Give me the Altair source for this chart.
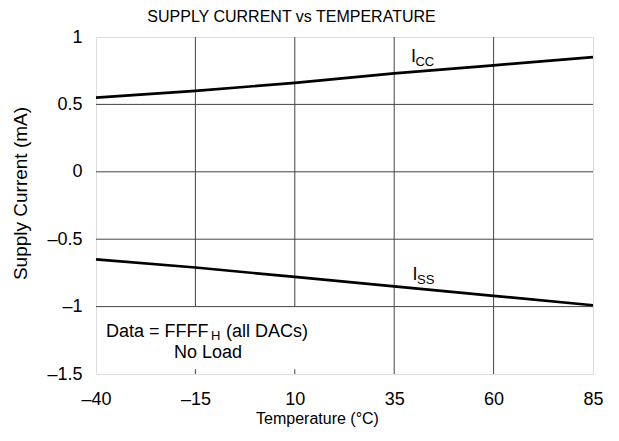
import altair as alt
import pandas as pd

# Data
temps = [-40, -15, 10, 35, 60, 85]
icc = [0.55, 0.60, 0.66, 0.73, 0.79, 0.85]
iss = [-0.65, -0.71, -0.78, -0.85, -0.92, -0.99]

x_ticks = [-40, -15, 10, 35, 60, 85]
y_ticks = [-1.5, -1, -0.5, 0, 0.5, 1]

FONT = "Liberation Sans"

lines_df = pd.DataFrame({
    "t": temps * 2,
    "v": icc + iss,
    "s": ["ICC"] * len(temps) + ["ISS"] * len(temps),
})

xs = alt.Scale(domain=[-40, 85], nice=False, zero=False)
ys = alt.Scale(domain=[-1.5, 1], nice=False, zero=False)

# grid: vertical lines at -15 and 10 stop at the annotation box (y=-1)
vgrid = pd.DataFrame({"t": [-15, 10, 35, 60], "lo": [-1, -1, -1.5, -1.5], "hi": [1, 1, 1, 1]})
hgrid = pd.DataFrame({"v": [0.5, 0, -0.5, -1], "a": [-40] * 4, "b": [85] * 4})
bticks = pd.DataFrame({"t": [-15, 10], "lo": [-1.5, -1.5], "hi": [-1.465, -1.465]})

lab_expr = "replace(replace(format(datum.value, '~g'), '-', '\u2013'), '\u2212', '\u2013')"

x_axis = alt.Axis(values=x_ticks, grid=False, ticks=False, domain=False, labelFlush=False,
                  labelFont=FONT, labelFontSize=18, labelColor="black", labelPadding=16,
                  labelExpr=lab_expr,
                  title="Temperature (\u00b0C)", titleFont=FONT, titleFontSize=16,
                  titleFontWeight="normal", titleColor="black",
                  titleX=221, titleY=44, titleBaseline="middle", titleAlign="center")
y_axis = alt.Axis(values=y_ticks, grid=False, ticks=False, domain=False, labelFlush=False,
                  labelFont=FONT, labelFontSize=18, labelColor="black", labelPadding=14,
                  labelExpr=lab_expr,
                  title="Supply Current (mA)", titleFont=FONT, titleFontSize=19,
                  titleFontWeight="normal", titleColor="black",
                  titleX=-76, titleY=156, titleAngle=270, titleBaseline="middle", titleAlign="center")

vg = alt.Chart(vgrid).mark_rule(color="#444", strokeWidth=1).encode(
    x=alt.X("t:Q", scale=xs, axis=x_axis),
    y=alt.Y("lo:Q", scale=ys, axis=y_axis),
    y2="hi:Q",
)
hg = alt.Chart(hgrid).mark_rule(color="#444", strokeWidth=1).encode(
    x=alt.X("a:Q", scale=xs), x2="b:Q", y=alt.Y("v:Q", scale=ys)
)
bt = alt.Chart(bticks).mark_rule(color="#444", strokeWidth=1).encode(
    x=alt.X("t:Q", scale=xs), y=alt.Y("lo:Q", scale=ys), y2="hi:Q"
)
ln = alt.Chart(lines_df).mark_line(color="black", strokeWidth=2.7).encode(
    x=alt.X("t:Q", scale=xs), y=alt.Y("v:Q", scale=ys), detail="s:N"
)

# annotation texts (position in data units, pixel offsets for subscripts)
ann_text = ["I", "CC", "I", "SS", "Data = FFFF", "H", "(all DACs)", "No Load"]
ann_x = [39.2, 39.2, 39.6, 39.6, -37.5, -37.5, -37.5, -20.4]
ann_y = [0.817, 0.817, -0.803, -0.803, -1.223, -1.223, -1.223, -1.384]
ann_dx = [0, 4.5, 0, 4.5, 0, 105, 120, 0]
ann_dy = [0, 4, 0, 4, 0, 3.5, 0, 0]
ann_size = [18, 13, 18, 13, 18, 13, 18, 18]

layers = []
for i in range(len(ann_text)):
    d = pd.DataFrame({"x": [ann_x[i]], "y": [ann_y[i]], "text": [ann_text[i]]})
    layers.append(
        alt.Chart(d).mark_text(
            align="left", baseline="alphabetic", font=FONT, color="black",
            dx=ann_dx[i], dy=ann_dy[i], fontSize=ann_size[i],
        ).encode(x=alt.X("x:Q", scale=xs), y=alt.Y("y:Q", scale=ys), text="text:N")
    )

chart = alt.layer(vg, hg, bt, ln, *layers).properties(
    width=497, height=337,
    title=alt.TitleParams("SUPPLY CURRENT vs TEMPERATURE", font=FONT, fontSize=16,
                          fontWeight="normal", color="black", anchor="middle", dx=-53,
                          offset=3),
    autosize=alt.AutoSizeParams(type="none"),
    padding={"left": 88, "top": 29, "right": 10, "bottom": 60},
).configure_view(stroke="black", strokeWidth=2.8).configure(background="white")

chart.save("out.html", embed_options={"renderer": "svg", "actions": False})
